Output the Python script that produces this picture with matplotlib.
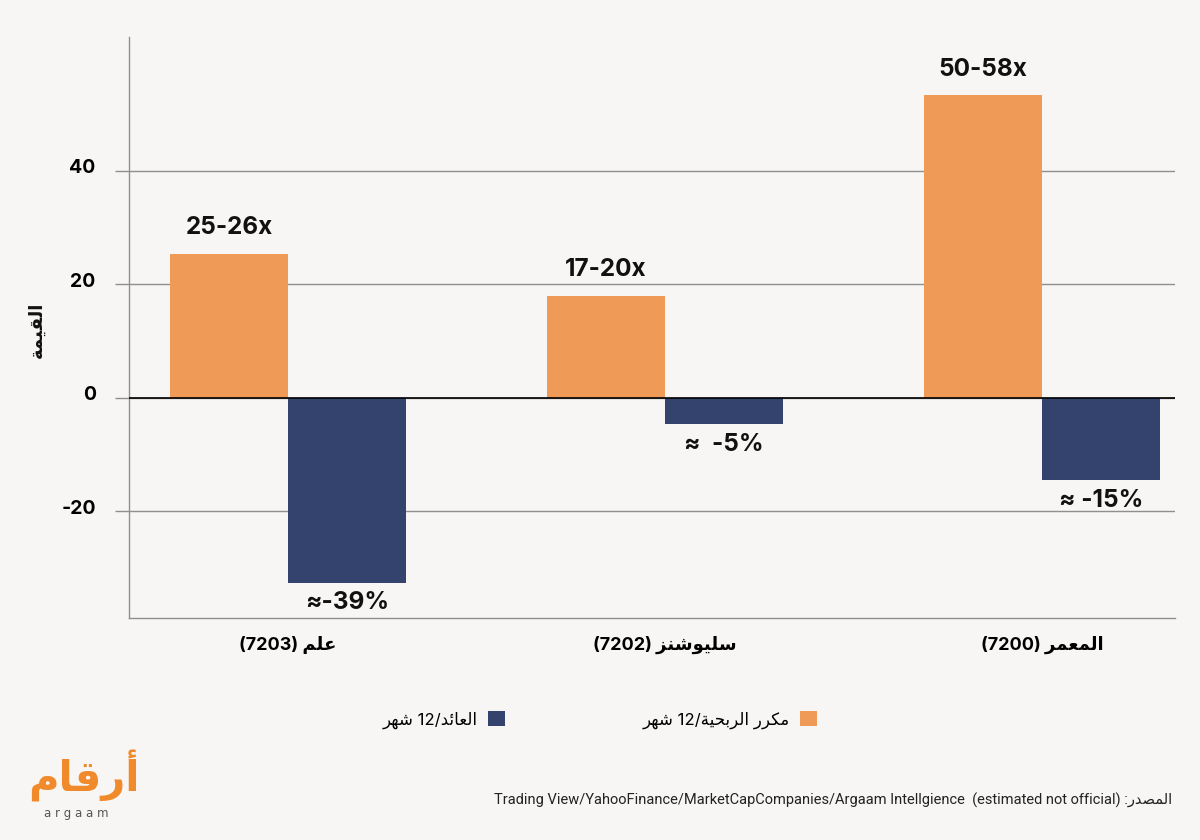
import matplotlib
matplotlib.use('Agg')
import matplotlib.pyplot as plt
import matplotlib.transforms as mtransforms
from matplotlib.patches import Patch
import numpy as np

# ---------------- data ----------------
company_names = ["علم", "سليوشنز", "المعمر"]
company_codes = ["7203", "7202", "7200"]
pe_values = [25.4, 18.0, 53.4]
return_values = [-32.6, -4.7, -14.6]
pe_labels = ["25-26x", "17-20x", "50-58x"]
return_labels = ["≈-39%", "≈  -5%", "≈ -15%"]
series_pe = "مكرر الربحية"
series_ret = "العائد"
period_word = "شهر"
y_label = "القيمة"
source_word = "المصدر"
source_text = "Trading View/YahooFinance/MarketCapCompanies/Argaam Intellgience  (estimated not official)"
logo_ar = "أرقام"
logo_en = "a r g a a m"
yticks = [-20, 0, 20, 40]

# ---------------- minimal Arabic shaping ----------------
FORMS = {
    'ا': ('\uFE8D', '\uFE8E', None, None),
    'أ': ('\uFE83', '\uFE84', None, None),
    'ب': ('\uFE8F', '\uFE90', '\uFE91', '\uFE92'),
    'ة': ('\uFE93', '\uFE94', None, None),
    'ح': ('\uFEA1', '\uFEA2', '\uFEA3', '\uFEA4'),
    'د': ('\uFEA9', '\uFEAA', None, None),
    'ر': ('\uFEAD', '\uFEAE', None, None),
    'ز': ('\uFEAF', '\uFEB0', None, None),
    'س': ('\uFEB1', '\uFEB2', '\uFEB3', '\uFEB4'),
    'ش': ('\uFEB5', '\uFEB6', '\uFEB7', '\uFEB8'),
    'ص': ('\uFEB9', '\uFEBA', '\uFEBB', '\uFEBC'),
    'ع': ('\uFEC9', '\uFECA', '\uFECB', '\uFECC'),
    'ق': ('\uFED5', '\uFED6', '\uFED7', '\uFED8'),
    'ك': ('\uFED9', '\uFEDA', '\uFEDB', '\uFEDC'),
    'ل': ('\uFEDD', '\uFEDE', '\uFEDF', '\uFEE0'),
    'م': ('\uFEE1', '\uFEE2', '\uFEE3', '\uFEE4'),
    'ن': ('\uFEE5', '\uFEE6', '\uFEE7', '\uFEE8'),
    'ه': ('\uFEE9', '\uFEEA', '\uFEEB', '\uFEEC'),
    'و': ('\uFEED', '\uFEEE', None, None),
    'ي': ('\uFEF1', '\uFEF2', '\uFEF3', '\uFEF4'),
    'ئ': ('\uFE89', '\uFE8A', '\uFE8B', '\uFE8C'),
}
LAMALEF = {'ا': ('\uFEFB', '\uFEFC'), 'أ': ('\uFEF7', '\uFEF8')}


def _joins_next(c):
    return c in FORMS and FORMS[c][2] is not None


def shape(text):
    out = []
    n = len(text)
    i = 0
    while i < n:
        c = text[i]
        if c not in FORMS:
            out.append(c)
            i += 1
            continue
        prev = text[i - 1] if i > 0 else None
        prev_j = prev is not None and _joins_next(prev)
        if c == 'ل' and i + 1 < n and text[i + 1] in LAMALEF:
            lig = LAMALEF[text[i + 1]]
            out.append(lig[1] if prev_j else lig[0])
            i += 2
            continue
        nxt = text[i + 1] if i + 1 < n else None
        next_j = _joins_next(c) and nxt is not None and nxt in FORMS
        f = FORMS[c]
        if prev_j and next_j:
            g = f[3]
        elif prev_j:
            g = f[1]
        elif next_j:
            g = f[2]
        else:
            g = f[0]
        out.append(g)
        i += 1
    return ''.join(out)


def ar(text):
    return shape(text)[::-1]


# ---------------- style ----------------
BG = '#F8F6F4'
ORANGE = '#F09A58'
BLUE = '#33436E'
GRID = '#8F8F8F'
plt.rcParams['font.family'] = ['Inter', 'DejaVu Sans']

fig = plt.figure(figsize=(12, 8.4), dpi=100, facecolor=BG)
ax = fig.add_axes([129 / 1200, 1 - 618 / 840, 1046 / 1200, 581 / 840])
ax.set_facecolor(BG)

x = np.arange(len(company_names))
w = 0.314
b1 = ax.bar(x - w / 2, pe_values, w, color=ORANGE, zorder=2)
b2 = ax.bar(x + w / 2, return_values, w, color=BLUE, zorder=2)

ax.set_xlim(-0.422, 2.353)
ax.set_ylim(-38.85, 63.6)
ax.set_yticks(yticks)
ax.set_yticklabels([str(t) for t in yticks], fontsize=14, fontweight='bold')
ax.yaxis.grid(True, color=GRID, linewidth=1.0)
ax.set_axisbelow(True)
ax.axhline(0, color='black', linewidth=1.2, zorder=3)
ax.tick_params(axis='y', length=10, width=1.0, color=GRID, pad=14)

cat_labels = ["(" + c + ") " + ar(n) for n, c in zip(company_names, company_codes)]
ax.set_xticks(x)
ax.set_xticklabels(cat_labels, fontsize=13, fontweight='bold')
ax.tick_params(axis='x', length=0, pad=13)

for s in ['top', 'right']:
    ax.spines[s].set_visible(False)
for s in ['left', 'bottom']:
    ax.spines[s].set_color(GRID)
    ax.spines[s].set_linewidth(1.0)

# zero tick in black
for t, v in zip(ax.yaxis.get_major_ticks(), yticks):
    if v == 0:
        t.tick1line.set_color('black')

offset = mtransforms.ScaledTranslation(0, 4.5 / 100, fig.dpi_scale_trans)
for lab in ax.get_yticklabels():
    lab.set_transform(lab.get_transform() + offset)

for rect, lab in zip(b1, pe_labels):
    ax.annotate(lab, (rect.get_x() + rect.get_width() / 2, rect.get_height()),
                xytext=(0, 18.5), textcoords='offset points', ha='center', va='center',
                fontsize=17.5, fontweight='bold', color='#111111')
for rect, lab, v in zip(b2, return_labels, return_values):
    ax.annotate(lab, (rect.get_x() + rect.get_width() / 2, v),
                xytext=(0, -14.5), textcoords='offset points', ha='center', va='center',
                fontsize=17.5, fontweight='bold', color='#111111')

fig.text(37 / 1200, 1 - 330 / 840, ar(y_label), rotation=90, ha='center', va='center',
         fontsize=13, fontweight='bold', color='#111111')

# legend (RTL: marker after text)
lab_ret = ar(period_word) + " 12/" + ar(series_ret)
lab_pe = ar(period_word) + " 12/" + ar(series_pe)
handles = [Patch(facecolor=BLUE, edgecolor='none'), Patch(facecolor=ORANGE, edgecolor='none')]
fig.legend(handles, [lab_ret, lab_pe], ncol=2, markerfirst=False, frameon=False,
           loc='center', bbox_to_anchor=(0.5, 1 - 720 / 840), handlelength=1.0,
           handleheight=1.0, handletextpad=0.6, columnspacing=8.3,
           prop={'size': 12, 'family': ['Inter', 'DejaVu Sans']})

# source
fig.text(1172 / 1200, 1 - 800 / 840, source_text + " :" + ar(source_word), ha='right', va='center',
         fontsize=10.5, family=['Roboto', 'DejaVu Sans'], color='#222222')

# logo
fig.text(84 / 1200, 1 - 776 / 840, ar(logo_ar), ha='center', va='center', fontsize=30,
         fontweight='bold', color='#F08A2A', family=['DejaVu Sans'])
fig.text(76 / 1200, 1 - 814 / 840, logo_en, ha='center', va='center', fontsize=8.5,
         color='#555555', family=['DejaVu Sans'])

fig.savefig('out.png', dpi=100, facecolor=BG)
